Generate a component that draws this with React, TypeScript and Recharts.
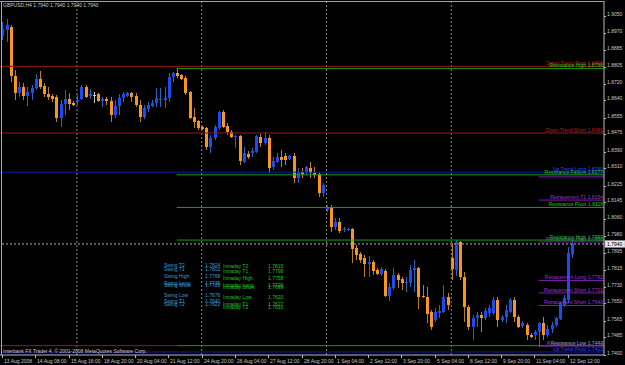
import React from "react";
import { ComposedChart, Bar, XAxis, YAxis, ReferenceLine } from "recharts";

const W = 625;
const H = 365;
const FONT = "'Liberation Sans', Arial, sans-serif";

// GBPUSD H4, 13 Aug 2008 - 12 Sep 2008 (bar index = position on chart)
const opens = [
  1.8954, 1.8983, 1.8998, 1.8759, 1.8676, 1.8705, 1.8662, 1.8676, 1.87, 1.8744,
  1.871, 1.8671, 1.8662, 1.8657, 1.8554, 1.8623, 1.8647, 1.8627, 1.8637, 1.8647,
  1.8705, 1.8662, 1.8666, 1.8671, 1.8637, 1.8647, 1.8637, 1.8569, 1.8613, 1.8652,
  1.8662, 1.8676, 1.8662, 1.8618, 1.8559, 1.8598, 1.8613, 1.8627, 1.8645, 1.8642,
  1.8652, 1.8754, 1.8774, 1.8764, 1.8749, 1.8681, 1.8559, 1.854, 1.851, 1.8505,
  1.8413, 1.8457, 1.8505, 1.8584, 1.8515, 1.8486, 1.8462, 1.8466, 1.834, 1.8379,
  1.8384, 1.8389, 1.8462, 1.8432, 1.8457, 1.8315, 1.834, 1.8364, 1.8369, 1.8354,
  1.8369, 1.8262, 1.8291, 1.8286, 1.8311, 1.8286, 1.8281, 1.8188, 1.8105, 1.812,
  1.8023, 1.8047, 1.8008, 1.8008, 1.8013, 1.792, 1.7891, 1.7871, 1.7842, 1.7852,
  1.7813, 1.7793, 1.7808, 1.7686, 1.7725, 1.7789, 1.7769, 1.775, 1.775, 1.7813,
  1.7823, 1.7686, 1.7681, 1.7608, 1.7569, 1.7603, 1.7608, 1.7681, 1.7871, 1.7813,
  1.795, 1.7779, 1.7633, 1.7535, 1.7579, 1.7593, 1.7579, 1.7603, 1.7603, 1.7667,
  1.7569, 1.7584, 1.7608, 1.7667, 1.7584, 1.754, 1.7545, 1.7496, 1.7496, 1.7511,
  1.7554, 1.7496, 1.7525, 1.7545, 1.7574, 1.7642, 1.7667, 1.7891,
];
const highs = [
  1.9022, 1.9037, 1.9008, 1.8788, 1.873, 1.8725, 1.8705, 1.8715, 1.8769, 1.8783,
  1.8725, 1.8705, 1.8671, 1.8666, 1.8642, 1.8691, 1.8676, 1.8637, 1.8666, 1.8715,
  1.8715, 1.8695, 1.8681, 1.8676, 1.8657, 1.8657, 1.8657, 1.8642, 1.8671, 1.8681,
  1.8681, 1.8681, 1.8676, 1.8642, 1.8618, 1.8632, 1.8642, 1.87, 1.87, 1.8705,
  1.8774, 1.8779, 1.8793, 1.8769, 1.8759, 1.8686, 1.8603, 1.8545, 1.8515, 1.851,
  1.8471, 1.852, 1.8588, 1.8593, 1.853, 1.8496, 1.8471, 1.8471, 1.8413, 1.8393,
  1.8408, 1.8471, 1.8476, 1.8486, 1.8471, 1.8364, 1.8384, 1.8398, 1.8384, 1.8374,
  1.8384, 1.8311, 1.8311, 1.832, 1.834, 1.8315, 1.8291, 1.8237, 1.813, 1.813,
  1.8067, 1.8067, 1.8023, 1.8018, 1.8018, 1.7935, 1.7901, 1.7886, 1.7881, 1.7862,
  1.7823, 1.7828, 1.7818, 1.775, 1.7823, 1.7798, 1.7779, 1.7779, 1.7837, 1.7862,
  1.7828, 1.774, 1.773, 1.7618, 1.7628, 1.7642, 1.774, 1.7701, 1.7945, 1.7959,
  1.7955, 1.7803, 1.7642, 1.7593, 1.7608, 1.7608, 1.7628, 1.7642, 1.7681, 1.7681,
  1.7593, 1.7642, 1.7676, 1.7681, 1.7593, 1.7564, 1.7554, 1.7506, 1.752, 1.7559,
  1.7584, 1.7545, 1.7559, 1.7584, 1.7657, 1.7691, 1.7925, 1.7959,
];
const lows = [
  1.8935, 1.8925, 1.873, 1.8642, 1.8657, 1.8642, 1.8613, 1.8642, 1.8691, 1.8695,
  1.8657, 1.8642, 1.8632, 1.8535, 1.851, 1.8569, 1.8593, 1.8613, 1.8618, 1.8642,
  1.8652, 1.8647, 1.8627, 1.8632, 1.8608, 1.8618, 1.8535, 1.8554, 1.8569, 1.8632,
  1.8657, 1.8632, 1.8608, 1.8535, 1.8549, 1.8584, 1.8608, 1.8608, 1.8608, 1.8603,
  1.8632, 1.873, 1.8749, 1.874, 1.8666, 1.8549, 1.8505, 1.8496, 1.8496, 1.8398,
  1.8384, 1.8447, 1.8496, 1.8505, 1.8471, 1.8457, 1.8408, 1.8325, 1.8335, 1.8354,
  1.8364, 1.8384, 1.8413, 1.8423, 1.8286, 1.8301, 1.8335, 1.8315, 1.8325, 1.8349,
  1.8237, 1.8237, 1.8262, 1.8276, 1.8262, 1.8262, 1.8169, 1.8169, 1.8096, 1.7998,
  1.8008, 1.7993, 1.7998, 1.8003, 1.7847, 1.7862, 1.7847, 1.7779, 1.7779, 1.7789,
  1.7789, 1.7784, 1.7681, 1.7662, 1.7715, 1.7725, 1.7715, 1.7706, 1.773, 1.7706,
  1.7623, 1.7676, 1.7554, 1.752, 1.7559, 1.7579, 1.7603, 1.7618, 1.7764, 1.7784,
  1.7764, 1.7559, 1.752, 1.7471, 1.7535, 1.7511, 1.7569, 1.7584, 1.7593, 1.7535,
  1.7559, 1.7554, 1.7603, 1.7559, 1.753, 1.753, 1.7471, 1.7481, 1.7471, 1.7437,
  1.7471, 1.7486, 1.7506, 1.7535, 1.7569, 1.7633, 1.7652, 1.7871,
];
const closes = [
  1.8988, 1.9008, 1.8759, 1.8676, 1.8705, 1.8662, 1.8681, 1.87, 1.8744, 1.8705,
  1.8671, 1.8657, 1.8647, 1.8554, 1.8623, 1.8647, 1.8623, 1.8618, 1.8642, 1.8705,
  1.8657, 1.8671, 1.8666, 1.8637, 1.8647, 1.8637, 1.8569, 1.8613, 1.8652, 1.8671,
  1.8676, 1.8657, 1.8618, 1.8559, 1.8603, 1.8618, 1.8627, 1.8652, 1.8647, 1.8652,
  1.8754, 1.8774, 1.8759, 1.8744, 1.8676, 1.8554, 1.8535, 1.8505, 1.8501, 1.8413,
  1.8457, 1.851, 1.8584, 1.851, 1.8486, 1.8462, 1.8466, 1.8345, 1.8384, 1.8364,
  1.8393, 1.8466, 1.8432, 1.8457, 1.8311, 1.8345, 1.8364, 1.8349, 1.8349, 1.8369,
  1.8262, 1.8291, 1.8281, 1.8315, 1.8286, 1.8276, 1.8188, 1.8227, 1.8115, 1.8023,
  1.8047, 1.8003, 1.8013, 1.8013, 1.7915, 1.7886, 1.7862, 1.7842, 1.7852, 1.7808,
  1.7793, 1.7818, 1.7686, 1.773, 1.7789, 1.7764, 1.775, 1.7755, 1.7813, 1.7823,
  1.7681, 1.7681, 1.7598, 1.7535, 1.7608, 1.7613, 1.7681, 1.7642, 1.7818, 1.795,
  1.7779, 1.7633, 1.7535, 1.7579, 1.7593, 1.7579, 1.7613, 1.7628, 1.7667, 1.7569,
  1.7584, 1.7618, 1.7667, 1.7584, 1.7535, 1.7554, 1.7496, 1.7486, 1.7511, 1.7554,
  1.7496, 1.7525, 1.7545, 1.7579, 1.7652, 1.7676, 1.7896, 1.794,
];

const lastPrice = 1.794;
const symbolTitle = "GBPUSD,H4  1.7940 1.7940 1.7940 1.7940";
const copyright = "Interbank FX Trader 4, \u00a9 2001-2008 MetaQuotes Software Corp.";

const xTickIdx = [0, 8, 16, 24, 32, 40, 48, 56, 64, 72, 80, 88, 96, 104, 112, 120, 128, 136];
const xTickLabels = [
  "13 Aug 2008", "14 Aug 08:00", "15 Aug 16:00", "18 Aug 20:00", "20 Aug 04:00",
  "21 Aug 12:00", "24 Aug 20:00", "26 Aug 04:00", "27 Aug 12:00", "28 Aug 20:00",
  "1 Sep 04:00", "2 Sep 12:00", "3 Sep 20:00", "5 Sep 04:00", "8 Sep 12:00",
  "9 Sep 20:00", "11 Sep 04:00", "12 Sep 12:00",
];
const priceLabels = [
  "1.7400", "1.7485", "1.7565", "1.7650", "1.7730", "1.7815", "1.7895", "1.7980",
  "1.8060", "1.8145", "1.8225", "1.8310", "1.8390", "1.8475", "1.8555", "1.8640",
  "1.8720", "1.8805", "1.8885", "1.8970", "1.9050",
];
const weekStarts = [18, 48, 78, 108];

// pivot / retracement levels (from = first bar of the level, null = whole chart)
const levelNames = [
  "Down Trend Pivot", "Resistance High", "Down Trend Short", "Up Trend Long",
  "Resistance Failure", "", "Retracement T1", "Resistance Pivot", "Retracement High",
  "Resistance High", "Retracement Long", "Retracement Short", "Retracement Short", "",
  "Resistance Low", "Retracement Low", "Up Trend Pivot",
];
const levelPrices = [
  1.8806, 1.8796, 1.8481, 1.829, 1.8277, 1.8267, 1.8154, 1.8118, 1.795, 1.7959,
  1.7762, 1.7701, 1.764, 1.7444, 1.7444, 1.7442, 1.7413,
];
const levelFrom = [null, 42, null, null, 42, 129, 129, 42, 129, 42, 129, 129, 129, null, 42, 129, null];
const levelTo = [null, null, null, null, null, null, null, null, null, null, null, null, null, 42, null, null, null];
const levelKind = [
  "down", "res", "down", "up", "res", "ret", "ret", "res", "ret", "res", "ret", "ret", "ret",
  "down", "res", "ret", "up",
];

const swingNames = ["Swing  T2", "Swing  T1", "Swing High", "Swing Long", "Swing Short", "Swing Low", "Swing  T1", "Swing  T2"];
const swingValues = ["1.7824", "1.7802", "1.7768", "1.7735", "1.7720", "1.7676", "1.7640", "1.7622"];
const intraNames = ["Intraday  T2", "Intraday  T1", "Intraday High", "Intraday Long", "Intraday Short", "Intraday Low", "Intraday  T1", "Intraday  T2"];
const intraValues = ["1.7815", "1.7798", "1.7758", "1.7726", "1.7699", "1.7620", "1.7627", "1.7616"];

// layout / style
const X_DOMAIN: [number, number] = [-0.48, 144.71];
const Y_DOMAIN: [number, number] = [1.73984, 1.91248];
const PLOT_RIGHT = 604;
const PLOT_BOTTOM = 355;
const swingRowY = [266.5, 270.5, 278, 284.5, 287.3, 296.5, 303, 305.8];
const intraRowY = [268.3, 273.2, 280, 286.5, 289.2, 298.8, 306.4, 309.2];

const kindStroke: Record<string, string> = { down: "#951818", res: "#12a012", up: "#1717b8", ret: "#7d1fae" };
const kindText: Record<string, string> = { down: "#b52222", res: "#1fc41f", up: "#2c4bff", ret: "#9b38d0" };

const BULL_BODY = "#1b4cf2";
const BULL_WICK = "#2a68b6";
const BEAR_BODY = "#f6961b";
const BEAR_WICK = "#b9801f";
const FLAT = "#c8c8c8";

const data = opens.map((o, i) => ({ i, o, h: highs[i], l: lows[i], c: closes[i] }));

const Candle = (props: any) => {
  const { x, y, width, height, payload } = props;
  if (x == null || y == null || !payload) return null;
  const { o, h, l, c } = payload;
  const top = Math.min(y, y + height);
  const span = Math.abs(height);
  const k = h > l ? span / (h - l) : 0;
  const py = (v: number) => top + (h - v) * k;
  const cx = Math.round(x + width / 2) + 0.5;
  const flat = o === c;
  const up = c > o;
  const wick = flat ? FLAT : up ? BULL_WICK : BEAR_WICK;
  const bTop = py(Math.max(o, c));
  const bBot = py(Math.min(o, c));
  return (
    <g shapeRendering="crispEdges">
      <line x1={cx} x2={cx} y1={top} y2={top + span} stroke={wick} strokeWidth={1} />
      {flat ? (
        <line x1={cx - 1.5} x2={cx + 1.5} y1={Math.round(bTop) + 0.5} y2={Math.round(bTop) + 0.5} stroke={wick} />
      ) : (
        <rect x={cx - 1.5} y={bTop} width={3} height={Math.max(1, bBot - bTop)} fill={up ? BULL_BODY : BEAR_BODY} />
      )}
    </g>
  );
};

const XTick = (props: any) => {
  const { x, payload } = props;
  const label = xTickLabels[xTickIdx.indexOf(payload.value)];
  const tx = Math.round(x) + 0.5;
  return (
    <g>
      <line x1={tx} x2={tx} y1={PLOT_BOTTOM} y2={PLOT_BOTTOM + 3} stroke="#b8b8b8" />
      <text x={tx + 1.5} y={PLOT_BOTTOM + 8} fontSize={5} fontFamily={FONT} fill="#c8c8c8">
        {label}
      </text>
    </g>
  );
};

const YTick = (props: any) => {
  const { y, payload } = props;
  const ty = Math.round(y) + 0.5;
  return (
    <g>
      <line x1={PLOT_RIGHT} x2={PLOT_RIGHT + 2} y1={ty} y2={ty} stroke="#b8b8b8" />
      <text x={PLOT_RIGHT + 3} y={y} fontSize={5} fontFamily={FONT} fill="#c8c8c8">
        {Number(payload.value).toFixed(4)}
      </text>
    </g>
  );
};

const levelLabel = (name: string, value: number, color: string) => (props: any) => {
  if (!name) return null;
  const vb = props.viewBox || {};
  const y = vb.y ?? 0;
  return (
    <g fontFamily={FONT} fontSize={5} fill={color}>
      <text x={586} y={y - 1} textAnchor="end">{name}</text>
      <text x={603} y={y - 1} textAnchor="end">{value.toFixed(4)}</text>
    </g>
  );
};

const priceBox = (props: any) => {
  const vb = props.viewBox || {};
  const y = vb.y ?? 0;
  return (
    <g>
      <rect x={PLOT_RIGHT + 1} y={y - 3.5} width={20} height={7} fill="#e6e6e6" stroke="#9a9a9a" strokeWidth={0.5} />
      <text x={PLOT_RIGHT + 3} y={y + 1.8} fontSize={5} fontFamily={FONT} fill="#000">
        {lastPrice.toFixed(4)}
      </text>
    </g>
  );
};

export default function App() {
  return (
    <div style={{ position: "absolute", left: 0, top: 0, width: W, height: H, background: "#000", overflow: "hidden" }}>
      <ComposedChart width={W} height={H} data={data} margin={{ top: 1, right: 0, bottom: 0, left: 0 }}>
        <XAxis
          type="number"
          dataKey="i"
          domain={X_DOMAIN}
          allowDataOverflow
          ticks={xTickIdx}
          interval={0}
          tick={<XTick />}
          tickLine={false}
          axisLine={{ stroke: "#b8b8c4" }}
          height={10}
        />
        <YAxis
          orientation="right"
          type="number"
          domain={Y_DOMAIN}
          allowDataOverflow
          ticks={priceLabels.map(Number)}
          interval={0}
          tick={<YTick />}
          tickLine={false}
          axisLine={{ stroke: "#b8b8c4" }}
          width={21}
        />
        {weekStarts.map((w) => (
          <ReferenceLine key={"w" + w} x={w} stroke="#8a8a6a" strokeDasharray="2 2" />
        ))}
        {levelPrices.map((p, k) => (
          <ReferenceLine
            key={"lv" + k}
            segment={[
              { x: levelFrom[k] ?? X_DOMAIN[0], y: p },
              { x: levelTo[k] ?? X_DOMAIN[1], y: p },
            ]}
            stroke={kindStroke[levelKind[k]]}
            strokeWidth={1}
            label={levelLabel(levelNames[k], p, kindText[levelKind[k]])}
          />
        ))}
        <ReferenceLine y={lastPrice} stroke="#b4b4b4" strokeDasharray="2 2" label={priceBox} />
        <Bar dataKey={(d: any) => [d.l, d.h]} barSize={3} shape={<Candle />} isAnimationActive={false} />
      </ComposedChart>
      <svg width={W} height={H} style={{ position: "absolute", left: 0, top: 0, pointerEvents: "none" }} fontFamily={FONT} fontSize={5}>
        <line x1={0} x2={PLOT_RIGHT} y1={1.5} y2={1.5} stroke="#c49090" />
        <line x1={1.5} x2={1.5} y1={1} y2={PLOT_BOTTOM} stroke="#a8a8b0" />
        <text x={3} y={7} fill="#c8c8c8">{symbolTitle}</text>
        <text x={3} y={353} fill="#c8c8c8">{copyright}</text>
        {swingNames.map((n, k) => (
          <g key={"s" + k} fill="#3d9ad6">
            <text x={164} y={swingRowY[k]}>{n}</text>
            <text x={205} y={swingRowY[k]}>{swingValues[k]}</text>
          </g>
        ))}
        {intraNames.map((n, k) => (
          <g key={"d" + k} fill="#1ec21e">
            <text x={223} y={intraRowY[k]}>{n}</text>
            <text x={268} y={intraRowY[k]}>{intraValues[k]}</text>
          </g>
        ))}
      </svg>
    </div>
  );
}
